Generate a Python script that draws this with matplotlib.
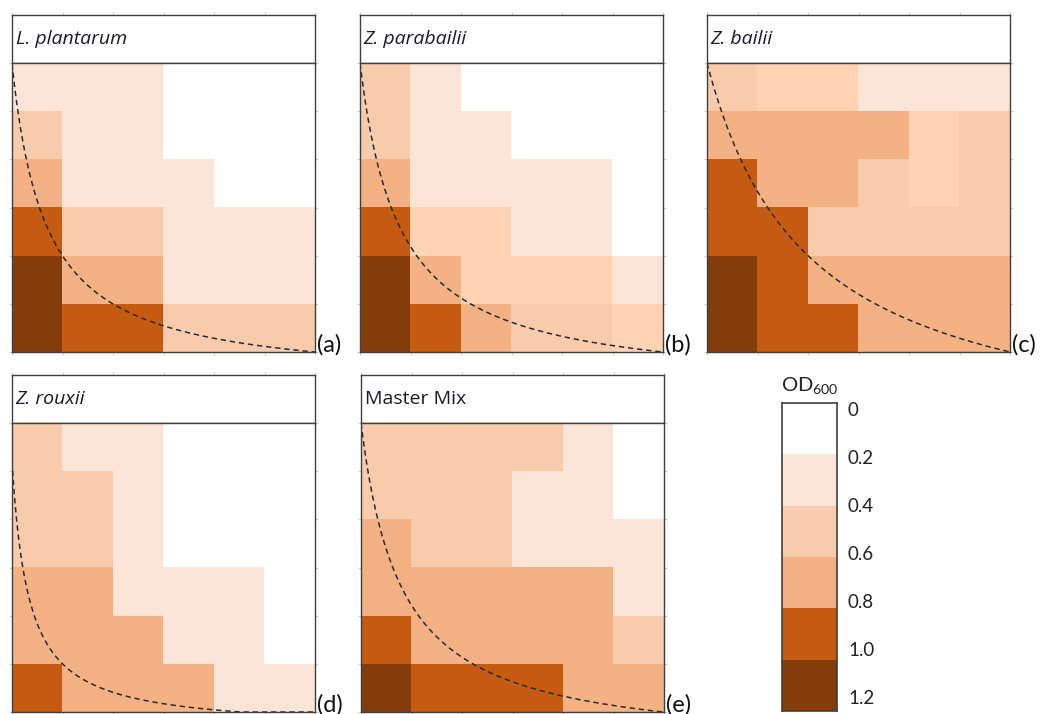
import numpy as np
import matplotlib
matplotlib.use("Agg")
import matplotlib.pyplot as plt
from matplotlib.colors import ListedColormap, BoundaryNorm

plt.rcParams['font.family'] = ['Lato', 'DejaVu Sans']
plt.rcParams['mathtext.fontset'] = 'custom'
plt.rcParams['mathtext.rm'] = 'Lato'

# ---- data: OD600 per well (rows listed top -> bottom, columns left -> right)
titles = ["L. plantarum", "Z. parabailii", "Z. bailii", "Z. rouxii", "Master Mix"]
italic = [True, True, True, True, False]
panel_tags = ["(a)", "(b)", "(c)", "(d)", "(e)"]

od_plantarum = [
    [0.30, 0.30, 0.30, 0.10, 0.10, 0.10],
    [0.55, 0.30, 0.30, 0.10, 0.10, 0.10],
    [0.70, 0.30, 0.30, 0.30, 0.10, 0.10],
    [0.90, 0.55, 0.55, 0.30, 0.30, 0.30],
    [1.10, 0.70, 0.70, 0.30, 0.30, 0.30],
    [1.10, 0.90, 0.90, 0.55, 0.55, 0.55],
]
od_parabailii = [
    [0.55, 0.30, 0.10, 0.10, 0.10, 0.10],
    [0.55, 0.30, 0.30, 0.10, 0.10, 0.10],
    [0.70, 0.30, 0.30, 0.30, 0.30, 0.10],
    [0.90, 0.45, 0.45, 0.30, 0.30, 0.10],
    [1.10, 0.70, 0.45, 0.45, 0.45, 0.30],
    [1.10, 0.90, 0.70, 0.55, 0.55, 0.45],
]
od_bailii = [
    [0.55, 0.45, 0.45, 0.30, 0.30, 0.30],
    [0.70, 0.70, 0.70, 0.70, 0.45, 0.55],
    [0.90, 0.70, 0.70, 0.55, 0.45, 0.55],
    [0.90, 0.90, 0.55, 0.55, 0.55, 0.55],
    [1.10, 0.90, 0.70, 0.70, 0.70, 0.70],
    [1.10, 0.90, 0.90, 0.70, 0.70, 0.70],
]
od_rouxii = [
    [0.55, 0.30, 0.30, 0.10, 0.10, 0.10],
    [0.55, 0.55, 0.30, 0.10, 0.10, 0.10],
    [0.55, 0.55, 0.30, 0.10, 0.10, 0.10],
    [0.70, 0.70, 0.30, 0.30, 0.30, 0.10],
    [0.70, 0.70, 0.70, 0.30, 0.30, 0.10],
    [0.90, 0.70, 0.70, 0.70, 0.30, 0.30],
]
od_mastermix = [
    [0.55, 0.55, 0.55, 0.55, 0.30, 0.10],
    [0.55, 0.55, 0.55, 0.30, 0.30, 0.10],
    [0.70, 0.55, 0.55, 0.30, 0.30, 0.30],
    [0.70, 0.70, 0.70, 0.70, 0.70, 0.30],
    [0.90, 0.70, 0.70, 0.70, 0.70, 0.55],
    [1.10, 0.90, 0.90, 0.90, 0.70, 0.70],
]
panels = [od_plantarum, od_parabailii, od_bailii, od_rouxii, od_mastermix]

# colour scale
cbar_levels = [0, 0.2, 0.4, 0.6, 0.8, 1.0, 1.2]
cbar_labels = ["0", "0.2", "0.4", "0.6", "0.8", "1.0", "1.2"]
cbar_colors = ["#FFFFFF", "#FCE4D6", "#F8CBAD", "#F4B183", "#C55A11", "#843C0C"]
cell_bounds = [0, 0.2, 0.4, 0.5, 0.6, 0.8, 1.0, 1.2]
cell_colors = ["#FFFFFF", "#FCE4D6", "#FDD3B4", "#F8CBAD", "#F4B183", "#C55A11", "#843C0C"]

# dashed reference curves y = A/(x+c) + d (grid units)
curve_params = [(4.44, 0.667, -0.667), (5.28, 0.779, -0.78), (16.0, 2.0, -2.0),
                (1.83, 0.328, -0.378), (5.42, 0.797, -0.8)]

# ---- layout (pixels)
W, H = 1045, 714
fig = plt.figure(figsize=(W / 100, H / 100), dpi=100)

def rect(x0, y0, x1, y1):
    return [x0 / W, 1 - y1 / H, (x1 - x0) / W, (y1 - y0) / H]

pos = [
    (12, 15, 315, 63, 352),
    (360, 15, 663, 63, 352),
    (707, 15, 1010, 63, 352),
    (12, 375, 315, 423, 712),
    (361, 375, 664, 423, 712),
]
spine_col = "#3f3f3f"
cmap = ListedColormap(cell_colors)
norm = BoundaryNorm(cell_bounds, cmap.N)

for i, (x0, yt, x1, ym, yb) in enumerate(pos):
    tax = fig.add_axes(rect(x0, yt, x1, ym))
    tax.set_xlim(0, 6)
    tax.set_ylim(0, 1)
    tax.set_xticks(range(7))
    tax.set_yticks([])
    tax.tick_params(axis='x', bottom=False, top=True, labelbottom=False,
                    length=2, color="#d0d0d0")
    for s in tax.spines.values():
        s.set_color(spine_col)
        s.set_linewidth(1.0)
    tax.text(0.012, 0.5, titles[i], transform=tax.transAxes, ha='left', va='center',
             fontsize=14, family=['Open Sans', 'DejaVu Sans'],
             style='italic' if italic[i] else 'normal', color="#1a1a2e")

    ax = fig.add_axes(rect(x0, ym, x1, yb))
    vals = np.array(panels[i])
    ax.imshow(vals, cmap=cmap, norm=norm, extent=(0, 6, 0, 6), origin='upper',
              aspect='auto', interpolation='nearest')
    A, c, d = curve_params[i]
    xs = np.linspace(0, 6, 400)
    ys = np.clip(A / (xs + c) + d, 0, 6)
    ax.plot(xs, ys, ls=(0, (3.5, 2.5)), color="#2b2b2b", lw=1.1, clip_on=True)
    ax.set_xlim(0, 6)
    ax.set_ylim(0, 6)
    ax.set_xticks(range(7))
    ax.set_yticks(range(7))
    ax.tick_params(length=2, color="#d0d0d0", labelbottom=False, labelleft=False,
                   right=True)
    for s in ax.spines.values():
        s.set_color(spine_col)
        s.set_linewidth(1.0)
    ax.text(1.005, 0.0, panel_tags[i], transform=ax.transAxes, ha='left',
            va='baseline', fontsize=17, color="#111111")

# ---- colour bar
cax = fig.add_axes(rect(782, 403, 837, 711))
cb_vals = np.array([(a + b) / 2 for a, b in zip(cbar_levels[:-1], cbar_levels[1:])])
cax.imshow(cb_vals.reshape(-1, 1), cmap=ListedColormap(cbar_colors),
           norm=BoundaryNorm(cbar_levels, len(cbar_colors)),
           extent=(0, 1, cbar_levels[-1], cbar_levels[0]), aspect='auto')
cax.set_xlim(0, 1)
cax.set_ylim(cbar_levels[-1], cbar_levels[0])
cax.set_xticks([])
cax.set_yticks([])
for s in cax.spines.values():
    s.set_color(spine_col)
    s.set_linewidth(1.2)
# labels evenly spread from just below the top edge to just above the bottom edge
n = len(cbar_labels)
top_frac, bot_frac = 1 - 7 / 308, 12 / 308
for k, lab in enumerate(cbar_labels):
    yf = top_frac + (bot_frac - top_frac) * k / (n - 1)
    cax.text(1.2, yf, lab, transform=cax.transAxes,
             ha='left', va='center', fontsize=13.5, color="#222222")
cax.text(0.5, 1.02, r"OD$_{600}$", transform=cax.transAxes, ha='center', va='bottom',
         fontsize=14.5, color="#222222")

fig.savefig("out.png", dpi=100)
